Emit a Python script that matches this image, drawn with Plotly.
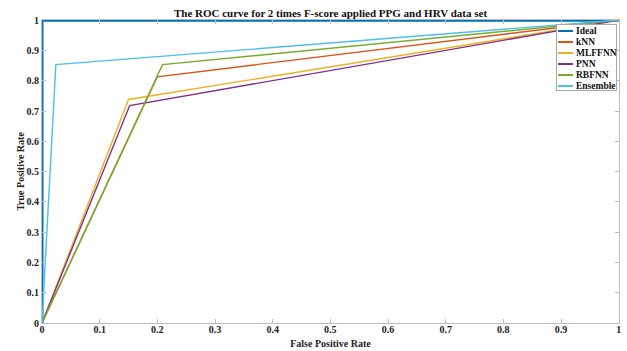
import plotly.graph_objects as go

series_names = ["Ideal", "kNN", "MLFFNN", "PNN", "RBFNN", "Ensemble"]
fpr = {
    "Ideal": [0, 0, 1],
    "kNN": [0, 0.20, 1],
    "MLFFNN": [0, 0.150, 1],
    "PNN": [0, 0.152, 1],
    "RBFNN": [0, 0.209, 1],
    "Ensemble": [0, 0.024, 1],
}
tpr = {
    "Ideal": [0, 1, 1],
    "kNN": [0, 0.813, 1],
    "MLFFNN": [0, 0.738, 1],
    "PNN": [0, 0.718, 1],
    "RBFNN": [0, 0.853, 1],
    "Ensemble": [0, 0.853, 1],
}
colors = {
    "Ideal": "#0072BD",
    "kNN": "#D95319",
    "MLFFNN": "#EDB120",
    "PNN": "#7E2F8E",
    "RBFNN": "#77AC30",
    "Ensemble": "#4DBEEE",
}
tick_vals = [0, 0.1, 0.2, 0.3, 0.4, 0.5, 0.6, 0.7, 0.8, 0.9, 1]
tick_text = ["0", "0.1", "0.2", "0.3", "0.4", "0.5", "0.6", "0.7", "0.8", "0.9", "1"]

font_family = "Liberation Serif"

fig = go.Figure()
for name in series_names:
    fig.add_trace(go.Scatter(
        x=fpr[name], y=tpr[name], mode="lines", name=name,
        line=dict(color=colors[name], width=3 if name == "Ideal" else 1.4),
        showlegend=False, hoverinfo="skip",
    ))

# compact MATLAB-style legend built from annotations (pixel layout of the legend box)
PX0, PX1, PY0, PY1 = 42, 619, 20, 323


def px(v):
    return (v - PX0) / (PX1 - PX0)


def py(v):
    return (PY1 - v) / (PY1 - PY0)


# legend frame
fig.add_annotation(xref="paper", yref="paper", x=px(586), y=py(58),
                   xanchor="center", yanchor="middle", text=" ", showarrow=False,
                   width=59, height=65, bgcolor="white", bordercolor="#a8a8a8",
                   borderwidth=1, borderpad=0)
for i, name in enumerate(series_names):
    yy = py(31 + i * 10.9)
    # coloured line sample
    fig.add_annotation(xref="paper", yref="paper", x=px(558), y=yy,
                       xanchor="left", yanchor="middle", text=" ", showarrow=False,
                       width=15, height=1.6, bgcolor=colors[name], borderpad=0,
                       borderwidth=0, font=dict(size=1))
    fig.add_annotation(xref="paper", yref="paper", x=px(574), y=yy,
                       xanchor="left", yanchor="middle", text="<b>" + name + "</b>",
                       showarrow=False,
                       font=dict(family=font_family, size=9.5, color="#111"))

axis_common = dict(
    range=[0, 1.0005], tickvals=tick_vals, ticktext=tick_text,
    ticks="inside", ticklen=4, tickcolor="#bdbdbd",
    showline=True, linecolor="#bdbdbd", linewidth=1, mirror="ticks",
    showgrid=False, zeroline=False, automargin=False,
    tickfont=dict(family=font_family, size=10, color="#222", weight="bold"),
)
fig.update_layout(
    width=627, height=351,
    margin=dict(l=PX0, r=627 - PX1, t=PY0, b=351 - PY1),
    paper_bgcolor="white", plot_bgcolor="white",
    title=dict(
        text="<b>The ROC curve for 2 times F-score applied PPG and HRV data set</b>",
        x=0.5, xanchor="center", xref="paper", y=0.962, yanchor="middle",
        font=dict(family=font_family, size=11, color="#111"),
    ),
    xaxis=dict(axis_common, title=dict(text="<b>False Positive Rate</b>",
                                       font=dict(family=font_family, size=10, color="#222"),
                                       standoff=5)),
    yaxis=dict(axis_common, title=dict(text="<b>True Positive Rate</b>",
                                       font=dict(family=font_family, size=10, color="#222"),
                                       standoff=0)),
    showlegend=False,
    hovermode=False,
)
fig.update_xaxes(ticklabelstandoff=-3)
fig.write_html("out.html", config={"displayModeBar": False, "staticPlot": True},
               post_script="document.body.style.margin='0';document.body.style.overflow='hidden';")
